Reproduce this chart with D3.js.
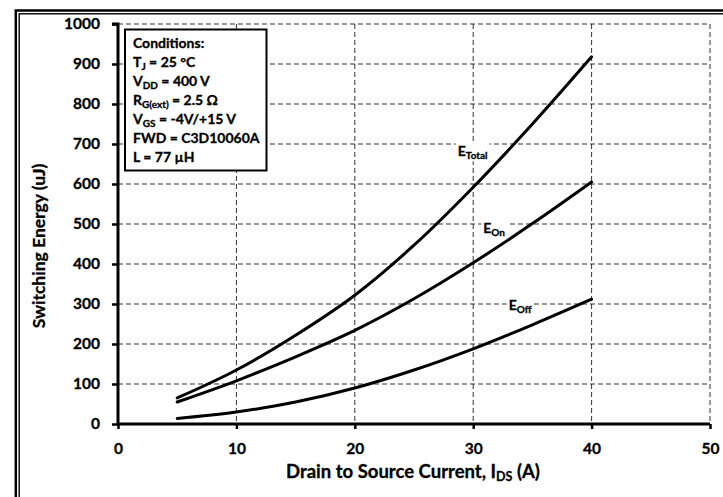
<!DOCTYPE html>
<html>
<head>
<meta charset="utf-8">
<script src="https://cdn.jsdelivr.net/npm/d3@7"></script>
<style>
  html, body { margin: 0; padding: 0; background: #fff; }
  svg { display: block; font-family: Lato, "Open Sans", sans-serif; font-weight: bold; }
  svg text { stroke: #000; stroke-width: 0.3px; fill: #000; }
</style>
</head>
<body>
<svg id="chart" width="723" height="497"></svg>
<script>
// valeurs
const xTicks = [0, 10, 20, 30, 40, 50];
const yTicks = [0, 100, 200, 300, 400, 500, 600, 700, 800, 900, 1000];
const courant = [5, 10, 15, 20, 25, 30, 35, 40];
const eTotal = [65, 135, 222, 322, 447, 592, 750, 918];
const eOn = [55, 108, 168, 234, 313, 403, 501, 605];
const eOff = [14, 30, 55, 90, 135, 188, 248, 312];

const series = [
  { nom: "Total", valeurs: eTotal, lx: 28.7, ly: 669 },
  { nom: "On", valeurs: eOn, lx: 30.85, ly: 477 },
  { nom: "Off", valeurs: eOff, lx: 33.0, ly: 285 }
];

// lignes du cadre "Conditions" : [texte, indice, suite]
const conditions = [
  ["Conditions:", "", ""],
  ["T", "J", " = 25 °C"],
  ["V", "DD", " = 400 V"],
  ["R", "G(ext)", " = 2.5 Ω"],
  ["V", "GS", " = -4V/+15 V"],
  ["FWD = C3D10060A", "", ""],
  ["L = 77 µH", "", ""]
];

const svg = d3.select("#chart");
const W = 723, H = 497;
const m = { left: 118, top: 24, right: 710, bottom: 424 };

const x = d3.scaleLinear().domain([0, 50]).range([m.left, m.right]);
const y = d3.scaleLinear().domain([0, 1000]).range([m.bottom, m.top]);

// cadre double
svg.append("rect").attr("x", 15.8).attr("y", 10.5).attr("width", W).attr("height", H)
  .attr("fill", "none").attr("stroke", "#000").attr("stroke-width", 2.5);
svg.append("rect").attr("x", 19.2).attr("y", 13.8).attr("width", W).attr("height", H)
  .attr("fill", "none").attr("stroke", "#000").attr("stroke-width", 1.4);

// grille pointillée
const grille = svg.append("g").attr("stroke", "#333").attr("stroke-width", 1).attr("stroke-dasharray", "5,3");
grille.selectAll("line.v").data(xTicks.filter(d => d > 0)).join("line")
  .attr("x1", d => x(d)).attr("x2", d => x(d)).attr("y1", m.top).attr("y2", m.bottom);
grille.selectAll("line.h").data(yTicks.filter(d => d > 0)).join("line")
  .attr("x1", m.left).attr("x2", m.right).attr("y1", d => y(d)).attr("y2", d => y(d));

// axes
const axeY = svg.append("g").attr("transform", `translate(${m.left},0)`)
  .call(d3.axisLeft(y).tickValues(yTicks).tickFormat(d3.format("d")).tickSize(6).tickPadding(12));
const axeX = svg.append("g").attr("transform", `translate(0,${m.bottom})`)
  .call(d3.axisBottom(x).tickValues(xTicks).tickFormat(d3.format("d")).tickSize(5).tickPadding(10));
[axeY, axeX].forEach(a => {
  a.select(".domain").attr("stroke", "#000").attr("stroke-width", 3);
  a.selectAll(".tick line").attr("stroke", "#000").attr("stroke-width", 2.5);
  a.selectAll(".tick text").attr("fill", "#000").style("font-size", "15.5px").style("font-family", "Lato, sans-serif").style("font-weight", "bold");
});
axeY.select(".domain").attr("d", `M-6,${y(1000)}H0V${y(0)}`);
axeX.select(".domain").attr("d", `M${x(0)},0H${x(50)}`);
axeX.selectAll(".tick text").attr("dy", "0.95em");

// courbes
const ligne = d3.line().x((d, i) => x(courant[i])).y(d => y(d)).curve(d3.curveMonotoneX);
svg.append("g").selectAll("path").data(series).join("path")
  .attr("d", d => ligne(d.valeurs))
  .attr("fill", "none").attr("stroke", "#000").attr("stroke-width", 3).attr("stroke-linecap", "round");

// étiquettes des courbes (fond blanc)
series.forEach(s => {
  const g = svg.append("g");
  const t = g.append("text").attr("x", x(s.lx)).attr("y", y(s.ly)).style("font-size", "14px");
  t.append("tspan").text("E");
  t.append("tspan").attr("dy", 3).style("font-size", "10px").text(s.nom);
  const b = t.node().getBBox();
  g.insert("rect", "text").attr("x", b.x - 2).attr("y", b.y).attr("width", b.width + 4).attr("height", b.height)
    .attr("fill", "#fff").attr("stroke", "none");
});

// cadre des conditions
svg.append("rect").attr("x", 125).attr("y", 29.5).attr("width", 141.5).attr("height", 141)
  .attr("fill", "#fff").attr("stroke", "#000").attr("stroke-width", 2);
const cond = svg.append("g");
conditions.forEach((c, i) => {
  const t = cond.append("text").attr("x", 133).attr("y", 47.5 + i * 19).style("font-size", "14px");
  t.append("tspan").text(c[0]);
  if (c[1]) {
    t.append("tspan").attr("dy", 3).style("font-size", "10px").text(c[1]);
    t.append("tspan").attr("dy", -3).text(c[2]);
  }
});

// titres des axes
const tx = svg.append("text").attr("x", 413).attr("y", 478).attr("text-anchor", "middle").style("font-size", "18.5px");
tx.append("tspan").text("Drain to Source Current, I");
tx.append("tspan").attr("dy", 3).style("font-size", "12.5px").text("DS");
tx.append("tspan").attr("dy", -3).text(" (A)");

svg.append("text").attr("transform", "translate(45,246) rotate(-90)")
  .attr("text-anchor", "middle").style("font-size", "17.5px").text("Switching Energy (uJ)");
</script>
</body>
</html>
